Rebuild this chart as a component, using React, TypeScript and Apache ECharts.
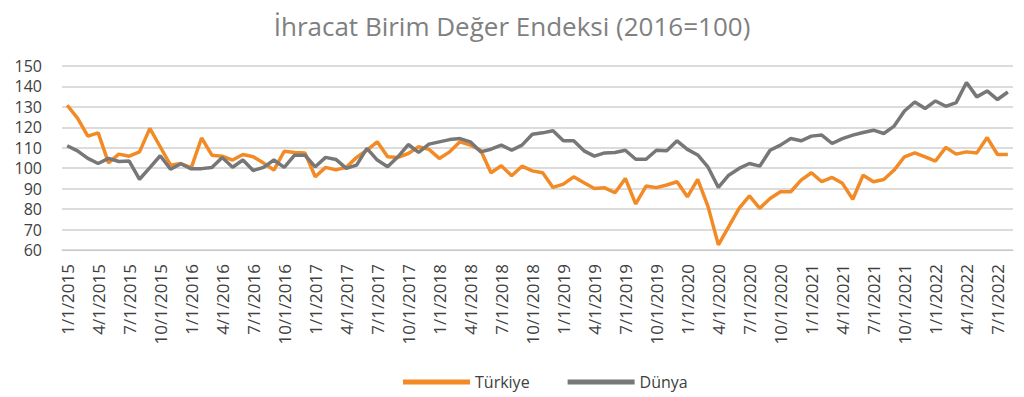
import React, { useEffect, useRef } from "react";
import * as echarts from "echarts";

const title = "İhracat Birim Değer Endeksi (2016=100)";
const seriesNames = ["Türkiye", "Dünya"];
const startYear = 2015;
const monthCount = 92;

const categories: string[] = [];
for (let k = 0; k < monthCount; k++) {
  const y = startYear + Math.floor(k / 12);
  const m = (k % 12) + 1;
  categories.push(`${m}/1/${y}`);
}

const turkiye = [
  130.8, 124.5, 115.7, 117.3, 102.6, 106.9, 105.9, 108.0, 119.5, 110.5, 101.5, 102.3,
  100.2, 114.8, 106.4, 105.9, 104.0, 106.7, 105.6, 102.5, 99.1, 108.3, 107.7, 107.5,
  95.8, 100.4, 99.2, 100.5, 105.3, 108.8, 112.9, 105.6, 105.3, 107.2, 110.5, 109.2,
  104.8, 108.0, 112.9, 111.3, 108.8, 97.8, 101.2, 96.3, 101.0, 98.7, 97.8, 90.6,
  92.2, 95.8, 92.9, 90.1, 90.4, 88.0, 95.0, 82.5, 91.3, 90.5, 91.8, 93.4,
  86.0, 94.5, 81.2, 62.5, 71.4, 80.4, 86.5, 80.4, 85.2, 88.5, 88.5, 94.2,
  97.8, 93.4, 95.5, 92.6, 84.8, 96.6, 93.4, 94.5, 99.1, 105.6, 107.5, 105.6,
  103.5, 110.2, 106.9, 108.0, 107.5, 115.0, 106.7, 106.7,
];

const dunya = [
  111.0, 108.5, 104.8, 102.3, 104.8, 103.3, 103.5, 94.6, 100.3, 106.1, 99.5, 102.2,
  99.7, 99.8, 100.3, 105.2, 100.5, 104.0, 98.9, 100.4, 104.0, 100.4, 106.4, 106.4,
  100.7, 105.3, 104.3, 99.9, 101.5, 109.7, 104.0, 100.7, 105.6, 111.6, 107.7, 111.8,
  112.9, 114.0, 114.5, 112.9, 108.0, 109.3, 111.3, 108.8, 111.3, 116.6, 117.3, 118.3,
  113.4, 113.4, 108.5, 105.9, 107.5, 107.7, 108.8, 104.4, 104.4, 108.8, 108.5, 113.4,
  109.2, 106.5, 100.5, 90.6, 96.6, 99.9, 102.3, 101.0, 108.8, 111.3, 114.5, 113.4,
  115.7, 116.2, 112.1, 114.5, 116.2, 117.5, 118.6, 117.0, 120.6, 128.0, 132.4, 129.2,
  132.9, 130.3, 132.1, 141.9, 134.9, 137.8, 133.6, 137.3,
];

const colors = ["#f28a26", "#777777"];

export default function App() {
  const ref = useRef<HTMLDivElement>(null);
  useEffect(() => {
    if (!ref.current) return;
    const chart = echarts.init(ref.current, null, { renderer: "svg" });
    chart.setOption({
      animation: false,
      backgroundColor: "#ffffff",
      color: colors,
      title: {
        text: title,
        left: "center",
        top: 8,
        textStyle: {
          fontFamily: "Open Sans",
          fontSize: 26,
          fontWeight: "normal",
          color: "#808080",
        },
      },
      legend: {
        top: 369,
        left: 398,
        itemWidth: 67,
        itemHeight: 5,
        itemGap: 38,
        icon: "rect",
        textStyle: { fontFamily: "Open Sans", fontSize: 16, color: "#404040" },
        data: seriesNames,
      },
      grid: { left: 62, right: 11, top: 66, bottom: 147, containLabel: false },
      xAxis: {
        type: "category",
        data: categories,
        boundaryGap: true,
        axisLine: { lineStyle: { color: "#c8c8c8", width: 1 } },
        axisTick: { interval: 2, length: 5, lineStyle: { color: "#c8c8c8" } },
        axisLabel: {
          interval: 2,
          rotate: 90,
          margin: 14,
          fontFamily: "Open Sans",
          fontSize: 17,
          color: "#404040",
        },
        splitLine: { show: false },
      },
      yAxis: {
        type: "value",
        min: 60,
        max: 150,
        interval: 10,
        axisLine: { show: false },
        axisTick: { show: false },
        axisLabel: {
          margin: 20,
          fontFamily: "Open Sans",
          fontSize: 16,
          color: "#404040",
        },
        splitLine: { lineStyle: { color: "#d0d0d0", width: 1.5 } },
      },
      series: [
        {
          name: seriesNames[0],
          type: "line",
          data: turkiye,
          symbol: "none",
          lineStyle: { width: 3.5, color: colors[0] },
          itemStyle: { color: colors[0] },
        },
        {
          name: seriesNames[1],
          type: "line",
          data: dunya,
          symbol: "none",
          lineStyle: { width: 3.5, color: colors[1] },
          itemStyle: { color: colors[1] },
        },
      ],
    });
    return () => chart.dispose();
  }, []);
  return (
    <div
      ref={ref}
      style={{ position: "fixed", left: 0, top: 0, width: 1024, height: 397 }}
    />
  );
}
